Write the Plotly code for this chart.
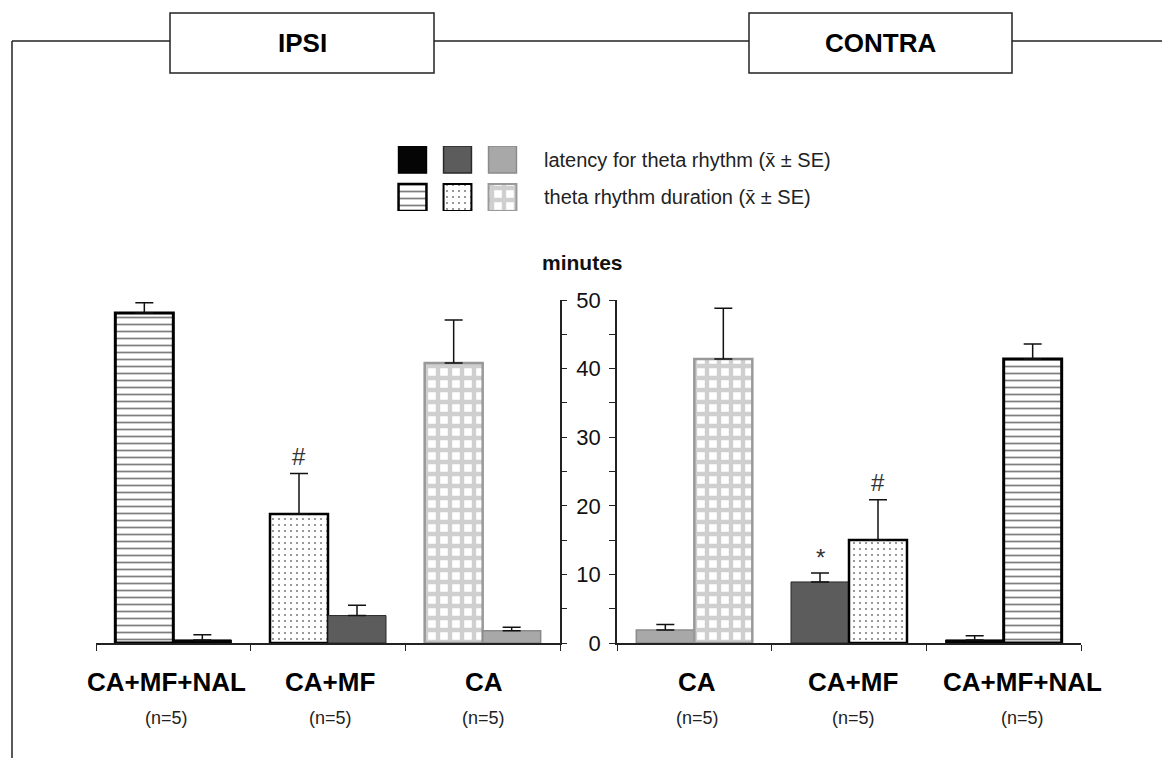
import plotly.graph_objects as go

# ---------------- data ----------------
ipsi_categories = ["CA+MF+NAL", "CA+MF", "CA"]
ipsi_duration = [48.1, 18.8, 40.8]
ipsi_duration_se = [1.5, 5.9, 6.3]
ipsi_latency = [0.45, 4.0, 1.8]
ipsi_latency_se = [0.75, 1.5, 0.5]

contra_categories = ["CA", "CA+MF", "CA+MF+NAL"]
contra_latency = [1.9, 8.9, 0.45]
contra_latency_se = [0.8, 1.3, 0.6]
contra_duration = [41.4, 15.0, 41.4]
contra_duration_se = [7.4, 5.9, 2.2]

group_n = ["(n=5)", "(n=5)", "(n=5)"]
y_ticks = [0, 5, 10, 15, 20, 25, 30, 35, 40, 45, 50]
y_ticktext = ["0", "", "10", "", "20", "", "30", "", "40", "", "50"]

legend_latency_text = "latency for theta rhythm (x\u0304 \u00b1 SE)"
legend_duration_text = "theta rhythm duration (x\u0304 \u00b1 SE)"

# ---------------- styles ----------------
W, H = 1162, 758
FONT = "Liberation Sans, Arial, sans-serif"

def px(x):
    return x / W

def py(y):
    return 1 - y / H

style = {
    "CA+MF+NAL": dict(lat_color="#050505", lat_line="#000000", lat_lw=1.0,
                      dur_shape="-", dur_fg="#000000", dur_size=7, dur_sol=0.25,
                      dur_line="#000000", dur_lw=3.0),
    "CA+MF": dict(lat_color="#5c5c5c", lat_line="#2a2a2a", lat_lw=1.0,
                  dur_shape=".", dur_fg="#000000", dur_size=6, dur_sol=0.1,
                  dur_line="#000000", dur_lw=2.5),
    "CA": dict(lat_color="#a8a8a8", lat_line="#8a8a8a", lat_lw=1.5,
               dur_shape="+", dur_fg="#a0a0a0", dur_size=12, dur_sol=0.6,
               dur_line="#999999", dur_lw=2.5),
}

BW = 0.375


def duration_bar(cats, vals, se, xa, ya, offset):
    return go.Bar(
        x=cats, y=vals, xaxis=xa, yaxis=ya, width=BW, offset=offset,
        marker=dict(
            color="white",
            pattern=dict(shape=[style[c]["dur_shape"] for c in cats],
                         fgcolor=[style[c]["dur_fg"] for c in cats],
                         bgcolor="white",
                         size=[style[c]["dur_size"] for c in cats],
                         solidity=[style[c]["dur_sol"] for c in cats]),
            line=dict(color=[style[c]["dur_line"] for c in cats],
                      width=[style[c]["dur_lw"] for c in cats])),
        error_y=dict(type="data", symmetric=False, array=se,
                     arrayminus=[0] * len(se), color="#111111",
                     thickness=1.5, width=9),
        showlegend=False, hoverinfo="skip")


def latency_bar(cats, vals, se, xa, ya, offset):
    return go.Bar(
        x=cats, y=vals, xaxis=xa, yaxis=ya, width=BW, offset=offset,
        marker=dict(color=[style[c]["lat_color"] for c in cats],
                    line=dict(color=[style[c]["lat_line"] for c in cats],
                              width=[style[c]["lat_lw"] for c in cats])),
        error_y=dict(type="data", symmetric=False, array=se,
                     arrayminus=[0] * len(se), color="#111111",
                     thickness=1.5, width=9),
        showlegend=False, hoverinfo="skip")


fig = go.Figure()

# IPSI: duration on the left of each pair, latency on the right
fig.add_trace(duration_bar(ipsi_categories, ipsi_duration, ipsi_duration_se, "x", "y", -BW))
fig.add_trace(latency_bar(ipsi_categories, ipsi_latency, ipsi_latency_se, "x", "y", 0))
# CONTRA: latency on the left, duration on the right
fig.add_trace(latency_bar(contra_categories, contra_latency, contra_latency_se, "x2", "y2", -BW))
fig.add_trace(duration_bar(contra_categories, contra_duration, contra_duration_se, "x2", "y2", 0))

# legend swatches (own hidden axis)
legend_order = ["CA+MF+NAL", "CA+MF", "CA"]
fig.add_trace(go.Bar(
    x=[0, 1, 2], y=[1, 1, 1], base=[1.4, 1.4, 1.4], width=0.62,
    xaxis="x3", yaxis="y3",
    marker=dict(color=[style[c]["lat_color"] for c in legend_order],
                line=dict(color=[style[c]["lat_line"] for c in legend_order],
                          width=[1.5, 1.5, 1.5])),
    showlegend=False, hoverinfo="skip"))
fig.add_trace(go.Bar(
    x=[0, 1, 2], y=[1, 1, 1], base=[0, 0, 0], width=0.62,
    xaxis="x3", yaxis="y3",
    marker=dict(color="white",
                pattern=dict(shape=[style[c]["dur_shape"] for c in legend_order],
                             fgcolor=[style[c]["dur_fg"] for c in legend_order],
                             bgcolor="white",
                             size=[style[c]["dur_size"] for c in legend_order],
                             solidity=[style[c]["dur_sol"] for c in legend_order]),
                line=dict(color=[style[c]["dur_line"] for c in legend_order],
                          width=[2.5, 2, 2])),
    showlegend=False, hoverinfo="skip"))

ydom = [py(643), py(300)]
axis_line = dict(showline=True, linecolor="#222222", linewidth=1.5)

fig.update_layout(
    width=W, height=H, autosize=False,
    margin=dict(l=0, r=0, t=0, b=0),
    paper_bgcolor="white", plot_bgcolor="rgba(0,0,0,0)",
    barmode="overlay",
    font=dict(family=FONT, color="#111111"),
    xaxis=dict(domain=[px(96), px(560)], anchor="y", type="category",
               range=[-0.5, 2.5], tickson="boundaries", ticks="outside",
               ticklen=6, tickcolor="#222222", tickwidth=1.2,
               showticklabels=False, showgrid=False, zeroline=False,
               automargin=False, fixedrange=True, **axis_line),
    yaxis=dict(domain=ydom, anchor="x", side="right", range=[0, 50],
               tickmode="array", tickvals=y_ticks, ticktext=y_ticktext,
               ticks="outside", ticklen=5, tickcolor="#222222", tickwidth=1.2,
               showticklabels=False, showgrid=False, zeroline=False,
               automargin=False, fixedrange=True, **axis_line),
    xaxis2=dict(domain=[px(617), px(1081)], anchor="y2", type="category",
                range=[-0.5, 2.5], tickson="boundaries", ticks="outside",
                ticklen=6, tickcolor="#222222", tickwidth=1.2,
                showticklabels=False, showgrid=False, zeroline=False,
                automargin=False, fixedrange=True, **axis_line),
    yaxis2=dict(domain=ydom, anchor="x2", side="left", range=[0, 50],
                tickmode="array", tickvals=y_ticks, ticktext=y_ticktext,
                ticks="outside", ticklen=6, tickcolor="#222222", tickwidth=1.2,
                tickfont=dict(size=22, color="#111111", family=FONT),
                ticklabelstandoff=4,
                showgrid=False, zeroline=False,
                automargin=False, fixedrange=True, **axis_line),
    xaxis3=dict(domain=[px(390), px(525)], anchor="y3", range=[-0.5, 2.5],
                visible=False, fixedrange=True),
    yaxis3=dict(domain=[py(211), py(146)], anchor="x3", range=[0, 2.4],
                visible=False, fixedrange=True),
)

# ---------------- frame & header boxes ----------------
shapes = [
    dict(type="line", xref="paper", yref="paper", x0=px(12), x1=1.0,
         y0=py(41), y1=py(41), line=dict(color="#222222", width=1.5)),
    dict(type="line", xref="paper", yref="paper", x0=px(12), x1=px(12),
         y0=py(41), y1=0, line=dict(color="#222222", width=1.5)),
    dict(type="rect", xref="paper", yref="paper", x0=px(170), x1=px(434),
         y0=py(73), y1=py(13), fillcolor="white",
         line=dict(color="#222222", width=1.5)),
    dict(type="rect", xref="paper", yref="paper", x0=px(749), x1=px(1012),
         y0=py(73), y1=py(13), fillcolor="white",
         line=dict(color="#222222", width=1.5)),
]
fig.update_layout(shapes=shapes)

ann = []
bold = dict(family=FONT, size=26, color="#000000")
ann.append(dict(text="<b>IPSI</b>", x=px(302), y=py(43), xref="paper", yref="paper",
                showarrow=False, font=bold, xanchor="center", yanchor="middle"))
ann.append(dict(text="<b>CONTRA</b>", x=px(880), y=py(43), xref="paper", yref="paper",
                showarrow=False, font=bold, xanchor="center", yanchor="middle"))
ann.append(dict(text=legend_latency_text, x=px(542), y=py(160), xref="paper", yref="paper",
                showarrow=False, font=dict(family=FONT, size=20, color="#222222"),
                xanchor="left", yanchor="middle"))
ann.append(dict(text=legend_duration_text, x=px(542), y=py(197), xref="paper", yref="paper",
                showarrow=False, font=dict(family=FONT, size=20, color="#222222"),
                xanchor="left", yanchor="middle"))
ann.append(dict(text="<b>minutes</b>", x=px(582), y=py(262), xref="paper", yref="paper",
                showarrow=False, font=dict(family=FONT, size=21, color="#111111"),
                xanchor="center", yanchor="middle"))

ipsi_shift = [-7, 2, 1]
contra_shift = [3, 4, 19]
for cats, xr, shifts in ((ipsi_categories, "x", ipsi_shift),
                         (contra_categories, "x2", contra_shift)):
    for c, s, n in zip(cats, shifts, group_n):
        ann.append(dict(text="<b>%s</b>" % c, x=c, xref=xr, y=py(682), yref="paper",
                        xshift=s, showarrow=False, font=bold,
                        xanchor="center", yanchor="middle"))
        ann.append(dict(text=n, x=c, xref=xr, y=py(718), yref="paper",
                        xshift=s, showarrow=False,
                        font=dict(family=FONT, size=18, color="#222222"),
                        xanchor="center", yanchor="middle"))

# significance marks
mark_font = dict(family=FONT, size=24, color="#333333")
i = ipsi_categories.index("CA+MF")
ann.append(dict(text="#", x="CA+MF", xref="x", xshift=-29,
                y=ipsi_duration[i] + ipsi_duration_se[i], yref="y",
                yanchor="bottom", yshift=2, showarrow=False, font=mark_font))
j = contra_categories.index("CA+MF")
ann.append(dict(text="#", x="CA+MF", xref="x2", xshift=29,
                y=contra_duration[j] + contra_duration_se[j], yref="y2",
                yanchor="bottom", yshift=2, showarrow=False, font=mark_font))
ann.append(dict(text="*", x="CA+MF", xref="x2", xshift=-29,
                y=contra_latency[j] + contra_latency_se[j], yref="y2",
                yanchor="bottom", yshift=0, showarrow=False, font=mark_font))

fig.update_layout(annotations=ann)

fig.write_html("out.html")
